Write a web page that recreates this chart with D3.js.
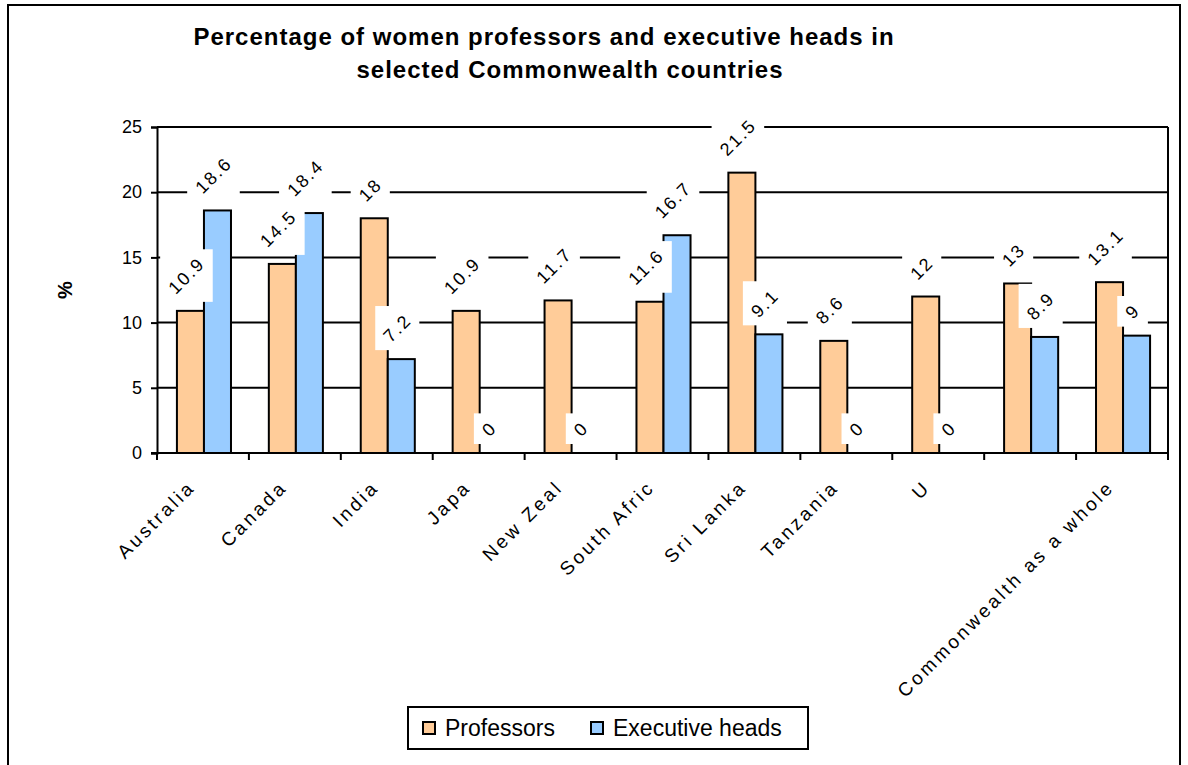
<!DOCTYPE html>
<html>
<head>
<meta charset="utf-8">
<script src="https://cdn.jsdelivr.net/npm/d3@7"></script>
<style>
  body { margin: 0; background: #fff; }
  svg text { font-family: "Liberation Sans", Arial, sans-serif; }
</style>
</head>
<body>
<div id="chart"></div>
<script>
// data
var categories = ["Australia", "Canada", "India", "Japa", "New Zeal", "South Afric",
  "Sri Lanka", "Tanzania", "U", "", "Commonwealth as a whole"];
var professors = [10.9, 14.5, 18, 10.9, 11.7, 11.6, 21.5, 8.6, 12, 13, 13.1];
var execHeads = [18.6, 18.4, 7.2, 0, 0, 16.7, 9.1, 0, 0, 8.9, 9];
var seriesNames = ["Professors", "Executive heads"];
var seriesColors = ["#FFCC99", "#99CCFF"];
var yTicks = [0, 5, 10, 15, 20, 25];

var width = 1188;
var height = 765;
var plot = { left: 157, right: 1168, top: 127, bottom: 453 };

var svg = d3.select('#chart')
  .append('svg')
  .attr('width', width)
  .attr('height', height);

// outer chart border
svg.append('rect')
  .attr('x', 8).attr('y', 5)
  .attr('width', 1172).attr('height', 800)
  .attr('fill', 'none')
  .attr('stroke', '#000')
  .attr('stroke-width', 2);

// title
svg.append('text')
  .attr('x', 544).attr('y', 45)
  .attr('text-anchor', 'middle')
  .attr('font-size', 24).attr('font-weight', 'bold')
  .attr('letter-spacing', 1)
  .text('Percentage of women professors and executive heads in');
svg.append('text')
  .attr('x', 570).attr('y', 78)
  .attr('text-anchor', 'middle')
  .attr('font-size', 24).attr('font-weight', 'bold')
  .attr('letter-spacing', 1)
  .text('selected Commonwealth countries');

var x0 = d3.scaleBand()
  .domain(d3.range(categories.length))
  .range([plot.left, plot.right])
  .padding(0);

var x1 = d3.scaleBand()
  .domain([0, 1])
  .range([0, x0.bandwidth()])
  .paddingInner(0)
  .paddingOuter(0.7);

var y = d3.scaleLinear()
  .domain([0, 25])
  .range([plot.bottom, plot.top]);

// gridlines
svg.append('g')
  .selectAll('line')
  .data(yTicks.filter((d) => d > 0))
  .enter()
  .append('line')
  .attr('x1', plot.left).attr('x2', plot.right)
  .attr('y1', (d) => y(d)).attr('y2', (d) => y(d))
  .attr('stroke', '#000')
  .attr('stroke-width', 2);

// right border of plot area
svg.append('line')
  .attr('x1', plot.right).attr('x2', plot.right)
  .attr('y1', plot.top).attr('y2', plot.bottom)
  .attr('stroke', '#000').attr('stroke-width', 2);

// bars
var rows = categories.map((c, i) => ({ i: i, values: [professors[i], execHeads[i]] }));

var groups = svg.append('g')
  .selectAll('g')
  .data(rows)
  .enter()
  .append('g')
  .attr('transform', (d) => 'translate(' + x0(d.i) + ',0)');

groups.selectAll('rect')
  .data((d) => d.values.map((v, k) => ({ k: k, v: v })))
  .enter()
  .append('rect')
  .filter((d) => d.v > 0)
  .attr('x', (d) => x1(d.k) + 1)
  .attr('y', (d) => y(d.v))
  .attr('width', x1.bandwidth())
  .attr('height', (d) => y(0) - y(d.v))
  .attr('fill', (d) => seriesColors[d.k])
  .attr('stroke', '#000')
  .attr('stroke-width', 2);

// y axis
var yAxis = svg.append('g')
  .attr('transform', 'translate(' + plot.left + ',0)')
  .call(d3.axisLeft(y).tickValues(yTicks).tickSize(6).tickPadding(9));
yAxis.select('.domain').attr('stroke-width', 2);
yAxis.selectAll('.tick line').attr('stroke-width', 2);
yAxis.selectAll('.tick text').attr('font-size', 18).attr('fill', '#000');

svg.append('text')
  .attr('transform', 'translate(72,290) rotate(-90)')
  .attr('text-anchor', 'middle')
  .attr('font-size', 20).attr('font-weight', 'bold')
  .text('%');

// x axis
svg.append('line')
  .attr('x1', plot.left - 6).attr('x2', plot.right)
  .attr('y1', plot.bottom).attr('y2', plot.bottom)
  .attr('stroke', '#000').attr('stroke-width', 2);

var bounds = d3.range(categories.length).map((i) => x0(i)).concat([plot.right]);
svg.append('g')
  .selectAll('line')
  .data(bounds)
  .enter()
  .append('line')
  .attr('x1', (d) => d).attr('x2', (d) => d)
  .attr('y1', plot.bottom).attr('y2', plot.bottom + 7)
  .attr('stroke', '#000').attr('stroke-width', 2);

svg.append('g')
  .selectAll('text')
  .data(categories)
  .enter()
  .append('text')
  .attr('transform', (d, i) => 'translate(' + (x0(i) + x0.bandwidth() / 2 - 16) + ',' + (plot.bottom + 26) + ') rotate(-45)')
  .attr('text-anchor', 'end')
  .attr('dy', '0.7em')
  .attr('font-size', 19)
  .attr('letter-spacing', 3)
  .text((d) => d);

// value labels with white boxes
var labels = svg.append('g');
rows.forEach(function (r) {
  r.values.forEach(function (v, k) {
    var g = labels.append('g');
    var t = g.append('text')
      .attr('font-size', 18)
      .attr('letter-spacing', 2)
      .attr('text-anchor', 'middle')
      .attr('dy', '0.35em')
      .attr('transform', 'rotate(-45)')
      .text(String(v));
    var bb = t.node().getBBox();
    var side = (bb.width + bb.height) / Math.SQRT2 + 8;
    var cx = x0(r.i) + x1(k) + x1.bandwidth() / 2 - 3;
    var cy = y(v) - side / 2 - 9;
    g.insert('rect', 'text')
      .attr('x', -side / 2).attr('y', -side / 2)
      .attr('width', side).attr('height', side)
      .attr('fill', '#fff');
    g.attr('transform', 'translate(' + cx + ',' + cy + ')');
  });
});

// legend
var legend = svg.append('g').attr('transform', 'translate(408,707)');
legend.append('rect')
  .attr('width', 400).attr('height', 42)
  .attr('fill', '#fff')
  .attr('stroke', '#000').attr('stroke-width', 2);
var legendX = [15, 183];
seriesNames.forEach(function (name, k) {
  legend.append('rect')
    .attr('x', legendX[k]).attr('y', 15)
    .attr('width', 12).attr('height', 12)
    .attr('fill', seriesColors[k])
    .attr('stroke', '#000').attr('stroke-width', 2);
  legend.append('text')
    .attr('x', legendX[k] + 22).attr('y', 29)
    .attr('font-size', 23)
    .text(name);
});
</script>
</body>
</html>
